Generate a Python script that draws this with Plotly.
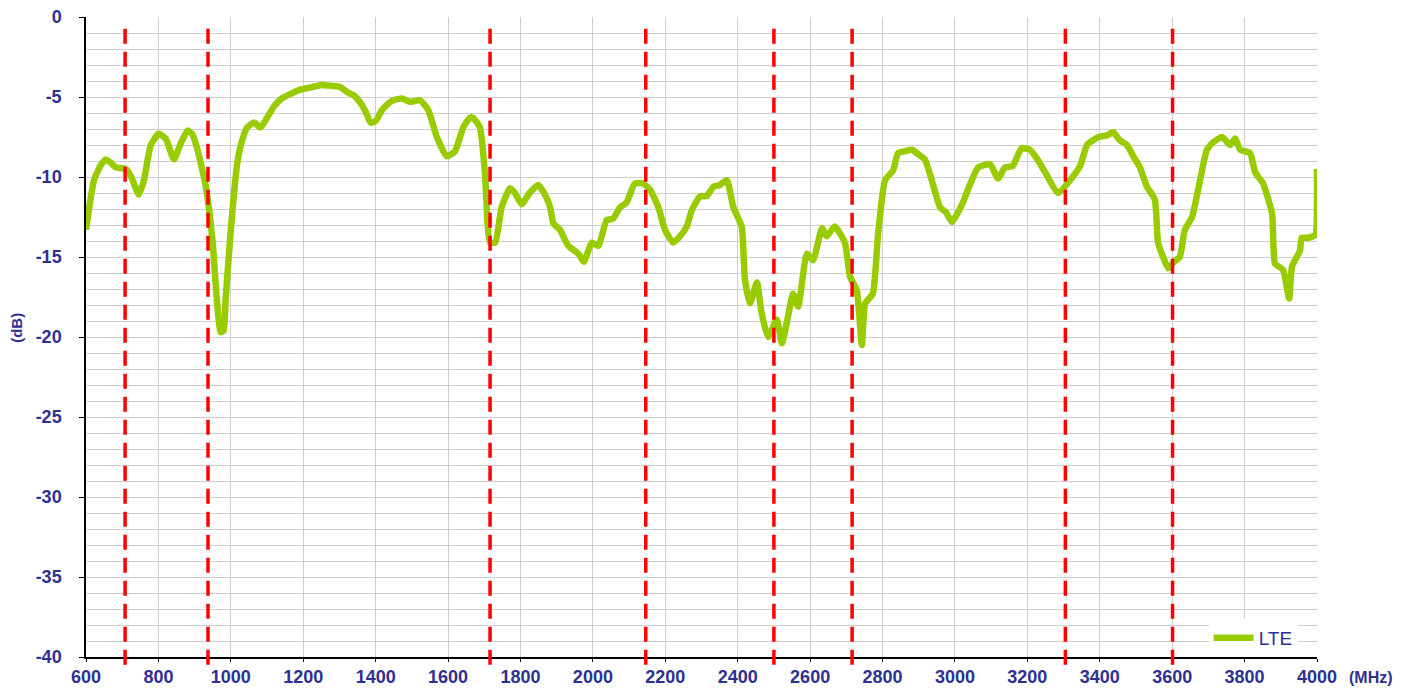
import plotly.graph_objects as go

freq_mhz = [600, 622, 640, 654, 668, 682, 710, 725, 746, 760, 779, 801, 820, 843, 860, 880, 893, 908,
            931, 949, 963, 972, 980, 986, 1000, 1018, 1030, 1045, 1064, 1082, 1100, 1119, 1140, 1165,
            1190, 1221, 1250, 1276, 1300, 1322, 1340, 1359, 1372, 1386, 1400, 1418, 1435, 1449, 1472,
            1495, 1522, 1545, 1569, 1596, 1619, 1642, 1660, 1669, 1688, 1702, 1716, 1730, 1748, 1771,
            1785, 1803, 1825, 1849, 1870, 1882, 1891, 1909, 1932, 1960, 1975, 1997, 2015, 2038, 2056,
            2075, 2093, 2116, 2139, 2158, 2181, 2199, 2222, 2241, 2259, 2273, 2296, 2314, 2333, 2351,
            2370, 2388, 2411, 2420, 2434, 2453, 2466, 2484, 2508, 2522, 2540, 2553, 2567, 2591, 2608,
            2633, 2646, 2668, 2696, 2710, 2729, 2743, 2752, 2773, 2788, 2807, 2829, 2843, 2860, 2881,
            2900, 2917, 2936, 2959, 2975, 2992, 3022, 3041, 3064, 3097, 3119, 3138, 3160, 3184, 3207,
            3228, 3249, 3285, 3318, 3346, 3365, 3397, 3420, 3437, 3455, 3475, 3495, 3511, 3530, 3552,
            3561, 3575, 3589, 3605, 3621, 3635, 3655, 3677, 3696, 3715, 3738, 3760, 3774, 3788, 3815,
            3829, 3851, 3876, 3884, 3906, 3923, 3931, 3953, 3958, 3975, 3989, 3996, 4000]

lte_db = [-13.3, -10.2, -9.3, -8.9, -9.1, -9.4, -9.5, -10.0, -11.1, -10.2, -8.0, -7.3, -7.6, -8.9, -8.0,
          -7.1, -7.3, -8.3, -10.6, -13.9, -18.1, -19.7, -19.6, -17.5, -13.3, -9.1, -7.8, -6.9, -6.6,
          -6.9, -6.3, -5.6, -5.1, -4.8, -4.55, -4.4, -4.25, -4.3, -4.35, -4.7, -4.9, -5.4, -5.9, -6.6,
          -6.5, -5.8, -5.4, -5.2, -5.1, -5.3, -5.2, -5.8, -7.5, -8.7, -8.4, -6.9, -6.3, -6.3, -6.9,
          -9.8, -14.1, -14.1, -11.9, -10.7, -11.0, -11.7, -11.0, -10.5, -11.2, -11.9, -12.9, -13.3,
          -14.3, -14.8, -15.3, -14.1, -14.3, -12.7, -12.6, -11.9, -11.6, -10.4, -10.4, -10.8, -11.9,
          -13.3, -14.1, -13.7, -13.1, -12.1, -11.2, -11.2, -10.6, -10.5, -10.2, -11.9, -13.1, -16.4,
          -17.9, -16.6, -18.5, -20.0, -18.9, -20.4, -18.6, -17.3, -18.1, -14.8, -15.2, -13.2, -13.7,
          -13.1, -14.1, -16.2, -17.1, -20.5, -17.9, -17.3, -13.5, -10.2, -9.6, -8.5, -8.4, -8.3, -8.6,
          -8.9, -10.2, -11.9, -12.2, -12.8, -11.6, -10.5, -9.4, -9.2, -10.1, -9.4, -9.3, -8.2, -8.3,
          -8.9, -9.7, -11.0, -10.2, -9.3, -8.0, -7.5, -7.4, -7.2, -7.7, -8.0, -8.8, -9.4, -10.6, -11.4,
          -14.1, -15.0, -15.7, -15.3, -15.0, -13.3, -12.5, -10.2, -8.3, -7.8, -7.5, -8.0, -7.6, -8.3,
          -8.5, -9.7, -10.4, -12.3, -15.4, -15.8, -17.6, -15.6, -14.6, -13.8, -13.8, -13.7, -13.6, -9.5]

band_edges_mhz = [708, 937, 1716, 2146, 2500, 2716, 3305, 3601]

x_tick_vals = list(range(600, 4001, 200))
x_tick_text = [str(v) for v in x_tick_vals]
y_tick_vals = list(range(-40, 1, 5))
y_tick_text = [str(v) for v in y_tick_vals]

NAVY = "#2e3192"
GRID = "#cfcfcf"

fig = go.Figure()

for xb in band_edges_mhz:
    fig.add_shape(type="line", xref="x", yref="paper", x0=xb, x1=xb, y0=-0.012, y1=0.992,
                  line=dict(color="#ff0000", width=3.5, dash="15px,8px"), layer="above")

fig.add_trace(go.Scatter(x=freq_mhz, y=lte_db, mode="lines", name="LTE",
                         line=dict(color="#99cc00", width=6.5, shape="spline", smoothing=0.5)))

fig.update_layout(
    width=1409, height=681,
    margin=dict(l=78, r=100, t=9, b=32, autoexpand=False),
    paper_bgcolor="white", plot_bgcolor="white",
    showlegend=True,
    legend=dict(x=0.912, y=0.0, xanchor="left", yanchor="bottom", bgcolor="white",
                borderwidth=0, font=dict(family="Liberation Sans", size=19, color=NAVY),
                itemwidth=40, tracegroupgap=0),
    xaxis=dict(range=[600, 4000], tickvals=x_tick_vals, ticktext=x_tick_text,
               showgrid=True, gridcolor=GRID, gridwidth=1, automargin=False,
               showline=True, linecolor="black", linewidth=1.5,
               ticks="outside", ticklen=3, tickcolor="black", ticklabelstandoff=0,
               ticklabeloverflow="allow",
               tickfont=dict(family="Liberation Sans", size=18, color=NAVY, weight="bold"),
               zeroline=False),
    yaxis=dict(range=[-40, 0], tickvals=y_tick_vals, ticktext=y_tick_text,
               showgrid=True, gridcolor=GRID, gridwidth=1, automargin=False,
               minor=dict(dtick=1, showgrid=True, gridcolor=GRID, gridwidth=1),
               showline=True, linecolor="black", linewidth=1.5,
               ticks="outside", ticklen=5, tickcolor="black", ticklabelstandoff=14,
               ticklabeloverflow="allow",
               tickfont=dict(family="Liberation Sans", size=18, color=NAVY, weight="bold"),
               zeroline=False),
    annotations=[
        dict(text="(MHz)", xref="paper", yref="paper", x=1.0435, y=-0.032, xanchor="center",
             yanchor="middle", showarrow=False,
             font=dict(family="Liberation Sans", size=16, color=NAVY, weight="bold")),
        dict(text="(dB)", xref="paper", yref="paper", x=-0.0565, y=0.515, xanchor="center",
             yanchor="middle", showarrow=False, textangle=-90,
             font=dict(family="Liberation Sans", size=15, color=NAVY, weight="bold")),
    ],
)

fig.write_html("out.html")
